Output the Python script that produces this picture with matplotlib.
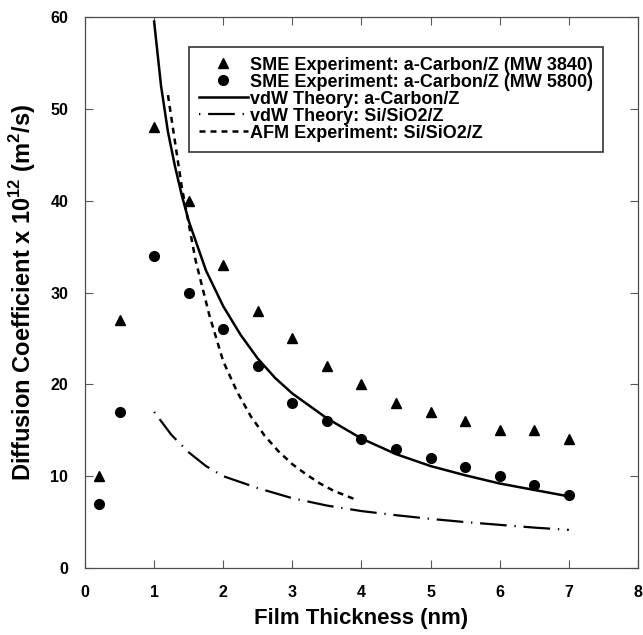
import numpy as np
import matplotlib
matplotlib.use("Agg")
import matplotlib.pyplot as plt

plt.rcParams['font.family'] = ['Liberation Sans', 'DejaVu Sans']
plt.rcParams['font.weight'] = 'bold'
plt.rcParams['mathtext.fontset'] = 'custom'
plt.rcParams['mathtext.bf'] = 'Liberation Sans:bold'
plt.rcParams['mathtext.rm'] = 'Liberation Sans:bold'

# SME measurements (film thickness in nm, D x 1e12 in m^2/s)
sme_x = [0.2, 0.5, 1.0, 1.5, 2.0, 2.5, 3.0, 3.5, 4.0, 4.5, 5.0, 5.5, 6.0, 6.5, 7.0]
sme_mw3840 = [10, 27, 48, 40, 33, 28, 25, 22, 20, 18, 17, 16, 15, 15, 14]
sme_mw5800 = [7, 17, 34, 30, 26, 22, 18, 16, 14, 13, 12, 11, 10, 9, 8]

# vdW theory, a-Carbon/Z
vdw_c_x = [1.0, 1.1, 1.2, 1.3, 1.4, 1.5, 1.75, 2.0, 2.25, 2.5, 2.75, 3.0,
           3.5, 4.0, 4.5, 5.0, 5.5, 6.0, 6.5, 7.0]
vdw_c_y = [59.5, 52.5, 47.5, 43.8, 40.6, 37.8, 32.4, 28.5, 25.4, 22.8, 20.7, 19.0,
           16.3, 14.1, 12.4, 11.1, 10.1, 9.2, 8.5, 7.8]

# vdW theory, Si/SiO2/Z
vdw_si_x = [1.0, 1.25, 1.5, 1.75, 2.0, 2.5, 3.0, 3.5, 4.0, 4.5, 5.0, 5.5, 6.0, 6.5, 7.0]
vdw_si_y = [17.0, 14.5, 12.6, 11.1, 10.0, 8.7, 7.6, 6.8, 6.2, 5.75, 5.35, 5.0, 4.7, 4.4, 4.15]

# AFM experiment, Si/SiO2/Z
afm_x = [1.2, 1.4, 1.6, 1.8, 2.0, 2.2, 2.4, 2.6, 2.8, 3.0, 3.2, 3.4, 3.6, 3.9]
afm_y = [51.5, 41.5, 33.5, 27.5, 22.5, 19.2, 16.5, 14.4, 12.7, 11.3, 10.2, 9.2, 8.4, 7.5]

fig = plt.figure(figsize=(6.43, 6.35), dpi=100)
ax = fig.add_axes([0.1322, 0.1055, 0.86, 0.8677])

ax.plot(sme_x, sme_mw3840, linestyle='none', marker='^', ms=7.5, color='black',
        label='SME Experiment: a-Carbon/Z (MW 3840)')
ax.plot(sme_x, sme_mw5800, linestyle='none', marker='o', ms=7, color='black',
        label='SME Experiment: a-Carbon/Z (MW 5800)')
ax.plot(vdw_c_x, vdw_c_y, color='black', lw=1.8, label='vdW Theory: a-Carbon/Z')
# long dash / faint dot pattern, starting on the dot
ax.plot(vdw_si_x, vdw_si_y, color='black', lw=1.6,
        linestyle=(15.5, (12, 3.5, 0.6, 3.5)), label='vdW Theory: Si/SiO2/Z')
ax.plot(afm_x, afm_y, color='black', lw=1.8, linestyle=(0, (2.4, 2.0)),
        label='AFM Experiment: Si/SiO2/Z')

ax.set_xlim(0, 8)
ax.set_ylim(0, 60)
ax.set_xticks(range(0, 9))
ax.set_yticks(range(0, 61, 10))
ax.tick_params(direction='in', length=6, width=0.8, color='0.35', labelsize=11.5,
               top=True, right=True, pad=12)
for s in ax.spines.values():
    s.set_linewidth(0.9)
    s.set_color('0.3')

ax.set_xlabel('Film Thickness (nm)', fontsize=16, fontweight='bold', labelpad=6)
ax.set_ylabel(r'Diffusion Coefficient x 10$^{12}$ (m$^{2}$/s)',
              fontsize=17, fontweight='bold', labelpad=9)

leg = ax.legend(loc='upper left', bbox_to_anchor=(0.188, 0.946),
                frameon=True, fancybox=False, handlelength=2.7, handletextpad=0.15,
                labelspacing=0.0, borderpad=0.55, borderaxespad=0,
                prop={'weight': 'bold', 'size': 13})
leg.get_frame().set_edgecolor('black')
leg.get_frame().set_linewidth(1.2)

fig.savefig('out.png', dpi=100)
